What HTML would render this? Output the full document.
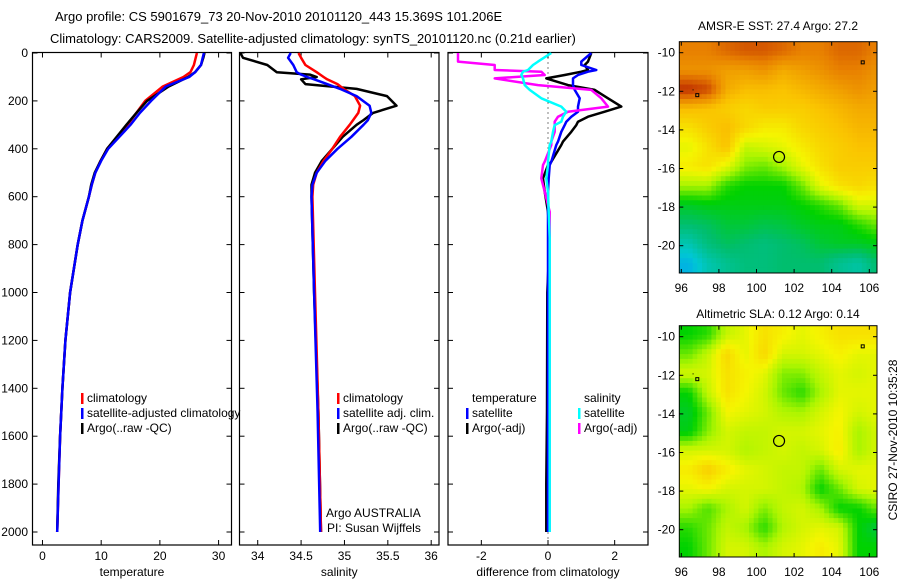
<!DOCTYPE html>
<html><head><meta charset="utf-8"><style>
html,body{margin:0;padding:0;background:#fff}
svg{display:block;font-family:"Liberation Sans",sans-serif}
text{font-size:12px;fill:#000}
</style></head><body>
<svg id="fig" width="900" height="580" viewBox="0 0 900 580"></svg>
<script>
// ---- data ----
const depths = [0,20,50,80,100,140,200,250,300,400,450,500,550,600,700,800,1000,1200,1400,1600,1800,2000];
const tempClim = [26.3,26.1,25.8,25.2,24.0,20.5,17.5,16.0,14.5,11.0,9.9,9.0,8.4,7.9,6.8,6.0,4.7,3.9,3.4,3.0,2.75,2.5];
const tempSat  = [27.5,27.3,27.0,26.0,25.0,21.0,18.5,16.6,15.0,11.2,10.0,9.0,8.4,7.9,6.8,6.0,4.7,3.9,3.4,3.0,2.75,2.5];
const tempArgo = [27.6,27.4,27.0,26.0,24.8,21.5,17.8,16.0,14.3,11.0,9.9,8.9,8.3,7.9,6.8,6.0,4.7,3.9,3.4,3.0,2.7,2.5];
const salDepths = [0,20,50,80,90,100,110,130,150,180,220,250,280,300,350,400,450,500,550,600,1000,1500,2000];
const salClim = [34.47,34.5,34.55,34.68,34.72,34.76,34.8,34.92,34.99,35.12,35.18,35.16,35.1,35.06,34.95,34.86,34.76,34.68,34.64,34.63,34.66,34.7,34.73];
const salSat  = [34.38,34.35,34.41,34.45,34.5,34.57,34.65,34.8,34.95,35.14,35.29,35.31,35.27,35.22,35.08,34.92,34.78,34.68,34.63,34.62,34.65,34.69,34.72];
const salArgo = [33.8,33.83,34.11,34.22,34.6,34.68,34.5,34.55,35.14,35.49,35.6,35.33,35.22,35.14,34.98,34.86,34.74,34.66,34.62,34.62,34.65,34.7,34.73];
const diffDepths = [0,36,50,71,78,92,106,134,154,189,224,245,266,287,301,329,370,384,454,468,523,579,663,773,1000,1500,1800,2000];
const dTempSat  = [1.3,1.0,1.0,1.45,1.2,0.9,0.75,0.75,0.8,0.95,0.9,0.9,0.7,0.55,0.5,0.4,0.3,0.25,0.1,0.05,0.02,0.0,0.0,0.0,0.0,0.0,0.0,0.0];
const dTempArgo = [1.3,1.2,1.1,1.2,1.0,0.5,-0.05,0.6,1.4,1.8,2.2,1.7,1.2,0.9,0.85,0.7,0.45,0.4,0.1,0.0,-0.15,-0.1,0.0,0.05,-0.02,-0.03,-0.05,-0.05];
const dSalSat   = [0.1,-0.3,-0.45,-0.6,-0.75,-0.8,-0.75,-0.7,-0.55,-0.2,0.4,0.55,0.45,0.4,0.2,0.15,0.1,0.05,0.0,0.0,-0.05,0.0,0.02,0.05,0.05,0.05,0.05,0.05];
const dSalArgo  = [-2.7,-2.7,-1.6,-1.6,-0.2,-0.1,-1.6,-0.3,1.3,1.6,1.8,0.6,0.3,0.2,0.2,0.2,0.1,0.1,-0.1,-0.15,-0.2,-0.1,0.05,0.05,0.05,0.05,0.05,0.05];
const tempTicks = [0,10,20,30];
const salTicks = [34,34.5,35,35.5,36];
const diffTicks = [-2,0,2];
const depthTicks = [0,200,400,600,800,1000,1200,1400,1600,1800,2000];
const lonTicks = [96,98,100,102,104,106];
const latTicks = [-10,-12,-14,-16,-18,-20];
const sstGrid = [
[0.85,0.85,0.88,0.9,0.9,0.88,0.85,0.85,0.88,0.88,0.85],
[0.82,0.82,0.8,0.8,0.82,0.78,0.8,0.82,0.85,0.85,0.82],
[0.95,0.92,0.78,0.75,0.75,0.74,0.76,0.78,0.8,0.82,0.8],
[0.75,0.74,0.72,0.7,0.72,0.72,0.72,0.74,0.76,0.78,0.78],
[0.68,0.72,0.75,0.7,0.66,0.66,0.7,0.72,0.74,0.76,0.76],
[0.62,0.68,0.74,0.58,0.6,0.62,0.66,0.7,0.72,0.74,0.74],
[0.66,0.68,0.62,0.52,0.5,0.55,0.62,0.68,0.72,0.72,0.72],
[0.55,0.55,0.45,0.42,0.42,0.42,0.5,0.62,0.68,0.7,0.68],
[0.38,0.4,0.4,0.4,0.4,0.4,0.42,0.45,0.5,0.6,0.6],
[0.3,0.32,0.36,0.36,0.34,0.35,0.38,0.4,0.4,0.45,0.5],
[0.2,0.28,0.32,0.3,0.28,0.3,0.32,0.36,0.38,0.38,0.4],
[0.1,0.2,0.25,0.28,0.28,0.3,0.3,0.3,0.25,0.22,0.3]];
const slaGrid = [
[0.42,0.45,0.58,0.62,0.68,0.65,0.62,0.65,0.68,0.68,0.68],
[0.5,0.58,0.7,0.62,0.7,0.6,0.6,0.62,0.65,0.62,0.62],
[0.6,0.6,0.68,0.65,0.62,0.52,0.52,0.58,0.62,0.6,0.62],
[0.42,0.58,0.68,0.64,0.6,0.5,0.45,0.55,0.62,0.62,0.62],
[0.38,0.5,0.64,0.62,0.6,0.56,0.55,0.6,0.64,0.6,0.62],
[0.4,0.52,0.6,0.58,0.58,0.6,0.6,0.62,0.65,0.55,0.6],
[0.6,0.6,0.6,0.56,0.58,0.6,0.58,0.6,0.66,0.55,0.6],
[0.66,0.72,0.66,0.62,0.6,0.58,0.58,0.5,0.6,0.62,0.62],
[0.62,0.64,0.6,0.6,0.6,0.58,0.56,0.42,0.5,0.6,0.62],
[0.55,0.48,0.55,0.6,0.52,0.58,0.6,0.55,0.42,0.42,0.5],
[0.45,0.5,0.58,0.55,0.45,0.56,0.6,0.62,0.6,0.42,0.35],
[0.42,0.5,0.6,0.6,0.55,0.6,0.62,0.66,0.62,0.42,0.42]];
const argoPos = [101.2,-15.4];

// ---- helpers ----
const NS="http://www.w3.org/2000/svg";
const svg=document.getElementById('fig');
function mk(tag,attrs,parent){const e=document.createElementNS(NS,tag);for(const k in attrs)e.setAttribute(k,attrs[k]);(parent||svg).appendChild(e);return e;}
function txt(s,x,y,anchor,parent){const t=mk('text',{x:x,y:y,'text-anchor':anchor||'start'},parent);t.textContent=s;return t;}

const yTop=53, yPx=0.2395;
const yD=d=>yTop+d*yPx;
const PT=52.5, PB=545;

function panel(name,L,R,x0,x1,xt,xlabel,withYLabels){
  const g=mk('g',{});
  
  
  const sx=v=>L+(v-x0)/(x1-x0)*(R-L);
  const cid='clip-'+name;
  const cp=mk('clipPath',{id:cid},g);mk('rect',{x:L,y:PT,width:R-L,height:PB-PT},cp);
  const fr=mk('rect',{x:L,y:PT,width:R-L,height:PB-PT,fill:'none',stroke:'#000','stroke-width':1.2},g);
  
  
  xt.forEach(v=>{const x=sx(v);
    mk('line',{x1:x,y1:PB,x2:x,y2:PB-5,stroke:'#000'},g);
    mk('line',{x1:x,y1:PT,x2:x,y2:PT+5,stroke:'#000'},g);
    const t=txt(String(v),x,560,'middle',g);
    
    
  });
  depthTicks.forEach(d=>{const y=yD(d);
    mk('line',{x1:L,y1:y,x2:L+5,y2:y,stroke:'#000'},g);
    mk('line',{x1:R,y1:y,x2:R-5,y2:y,stroke:'#000'},g);
    if(withYLabels){const t=txt(String(d),28,y+4,'end',g);
      
      }
  });
  const xl=txt(xlabel,(L+R)/2,576,'middle',g);
  
  
  const inner=mk('g',{'clip-path':'url(#'+cid+')'},g);
  return {g:g,sx:sx,inner:inner};
}
function line(p,xs,ds,color,name,w){
  const pts=xs.map((v,i)=>p.sx(v).toFixed(1)+','+yD(ds[i]).toFixed(1)).join(' ');
  const l=mk('polyline',{points:pts,fill:'none',stroke:color,'stroke-width':w||2.5,'stroke-linejoin':'round'},p.inner);
  
  
}
function legend(p,items,x,y){
  items.forEach((it,i)=>{const yy=y+i*15;
    if(it[1]) mk('rect',{x:x,y:yy-9,width:2.5,height:11,fill:it[1]},p.g);
    const t=txt(it[0],x+6,yy,'start',p.g);
    
    
  });
}

// titles
let t1=txt('Argo profile: CS 5901679_73 20-Nov-2010 20101120_443 15.369S 101.206E',55,21);


t1.style.fontSize='13px';
let t2=txt('Climatology: CARS2009. Satellite-adjusted climatology: synTS_20101120.nc (0.21d earlier)',50,43);


t2.style.fontSize='13px';

// temperature panel
const p1=panel('temperature-panel',32.5,231.5,-1.7,32.2,tempTicks,'temperature',true);
line(p1,tempClim,depths,'#f00','climatology-temp-line');
line(p1,tempArgo,depths,'#000','argo-temp-line');
line(p1,tempSat,depths,'#00f','satellite-temp-line');
legend(p1,[['climatology','#f00'],['satellite-adjusted climatology','#00f'],['Argo(..raw -QC)','#000']],81,402);

// salinity panel
const p2=panel('salinity-panel',239.5,439,33.79,36.09,salTicks,'salinity',false);
line(p2,salArgo,salDepths,'#000','argo-sal-line');
line(p2,salClim,salDepths,'#f00','climatology-sal-line');
line(p2,salSat,salDepths,'#00f','satellite-sal-line');
legend(p2,[['climatology','#f00'],['satellite adj. clim.','#00f'],['Argo(..raw -QC)','#000']],337,402);
let a1=txt('Argo AUSTRALIA',326,517,'start',p2.g);


let a2=txt('PI: Susan Wijffels',327,532,'start',p2.g);



// difference panel
const p3=panel('difference-panel',448,648,-3.0,3.0,diffTicks,'difference from climatology',false);
mk('line',{x1:p3.sx(0),y1:PT,x2:p3.sx(0),y2:PB,stroke:'#000','stroke-dasharray':'1,4'},p3.inner);
line(p3,dTempArgo,diffDepths,'#000','argo-temp-diff-line');
line(p3,dTempSat,diffDepths,'#00f','satellite-temp-diff-line');
line(p3,dSalArgo,diffDepths,'#f0f','argo-sal-diff-line');
line(p3,dSalSat,diffDepths,'#0ff','satellite-sal-diff-line');
legend(p3,[['temperature',null],['satellite','#00f'],['Argo(-adj)','#000']],466,402);
legend(p3,[['salinity',null],['satellite','#0ff'],['Argo(-adj)','#f0f']],578,402);

// ---- maps ----
const cstops=[[0,[0,140,255]],[0.15,[0,200,210]],[0.3,[0,190,110]],[0.42,[0,210,0]],[0.55,[170,245,0]],[0.64,[245,245,0]],[0.74,[250,195,0]],[0.85,[232,128,0]],[0.93,[200,64,0]],[1,[160,0,0]]];
function cmap(v){v=Math.max(0,Math.min(1,v));for(let i=1;i<cstops.length;i++){if(v<=cstops[i][0]){const a=cstops[i-1],b=cstops[i];const f=(v-a[0])/(b[0]-a[0]);return 'rgb('+a[1].map((c,k)=>Math.round(c+(b[1][k]-c)*f)).join(',')+')';}}return 'rgb(160,0,0)';}
function sample(grid,lon,lat){
  const fx=Math.max(0,Math.min(10,lon-96.4)), fy=Math.max(0,Math.min(11,-9.9-lat));
  const i0=Math.floor(fx),j0=Math.floor(fy),i1=Math.min(10,i0+1),j1=Math.min(11,j0+1),u=fx-i0,w=fy-j0;
  return grid[j0][i0]*(1-u)*(1-w)+grid[j0][i1]*u*(1-w)+grid[j1][i0]*(1-u)*w+grid[j1][i1]*u*w;
}
function mapPanel(name,grid,top,title,titleY){
  const g=mk('g',{});
  
  
  const L=679.3,R=877,T=top,B=top+231.3;
  const lx=lon=>681.3+(lon-96)*18.8, ly=lat=>T+11+(-10-lat)*19.3;
  const cid='clip-'+name;
  const cp=mk('clipPath',{id:cid},g);mk('rect',{x:L,y:T,width:R-L,height:B-T},cp);
  const cg=mk('g',{'clip-path':'url(#'+cid+')'},g);
  const step=0.25;
  for(let lat=-9.4;lat>-21.5;lat-=step){
    for(let lon=95.85;lon<106.5;lon+=step){
      mk('rect',{x:lx(lon).toFixed(1),y:ly(lat).toFixed(1),width:(step*18.8+0.6).toFixed(1),height:(step*19.3+0.6).toFixed(1),fill:cmap(sample(grid,lon+step/2,lat-step/2))},cg);
    }
  }
  mk('rect',{x:L,y:T,width:R-L,height:B-T,fill:'none',stroke:'#000','stroke-width':1},g);
  lonTicks.forEach(v=>{const x=lx(v);
    mk('line',{x1:x,y1:B,x2:x,y2:B-4,stroke:'#000'},g);
    mk('line',{x1:x,y1:T,x2:x,y2:T+4,stroke:'#000'},g);
    const t=txt(String(v),x,B+19,'middle',g);
    
    
  });
  latTicks.forEach(v=>{const y=ly(v);
    mk('line',{x1:L,y1:y,x2:L+4,y2:y,stroke:'#000'},g);
    mk('line',{x1:R,y1:y,x2:R-4,y2:y,stroke:'#000'},g);
    const t=txt(String(v),675,y+4,'end',g);
    
    
  });
  mk('rect',{x:lx(96.85)-1.5,y:ly(-12.2)-1.5,width:3,height:3,fill:'none',stroke:'#000'},cg);
  mk('rect',{x:lx(105.65)-1.5,y:ly(-10.5)-1.5,width:3,height:3,fill:'none',stroke:'#000'},cg);
  mk('rect',{x:lx(96.6),y:ly(-11.9),width:1,height:1,fill:'#000'},cg);
  const c=mk('circle',{cx:lx(argoPos[0]),cy:ly(argoPos[1]),r:5.5,fill:'none',stroke:'#000','stroke-width':1.2},g);
  
  
  const tt=txt(title,778,titleY,'middle',g);
  
  
}
mapPanel('sst-map',sstGrid,41.7,'AMSR-E SST: 27.4 Argo: 27.2',30);
mapPanel('sla-map',slaGrid,325.7,'Altimetric SLA: 0.12 Argo: 0.14',318);
const cs=txt('CSIRO 27-Nov-2010 10:35:28',0,0,'middle');
cs.setAttribute('transform','translate(897,440) rotate(-90)');


</script>
</body></html>
